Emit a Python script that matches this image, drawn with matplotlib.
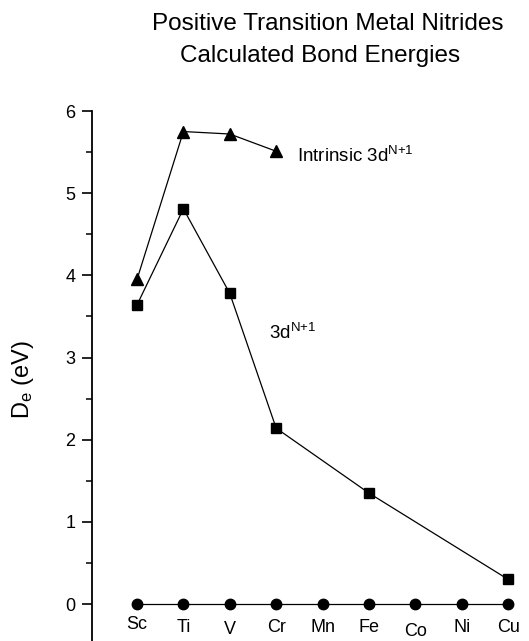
import matplotlib
matplotlib.use("Agg")
import matplotlib.pyplot as plt
import numpy as np

plt.rcParams["font.family"] = ["Liberation Sans", "DejaVu Sans"]
plt.rcParams["mathtext.fontset"] = "custom"
plt.rcParams["mathtext.rm"] = "Liberation Sans"
plt.rcParams["mathtext.it"] = "Liberation Sans:italic"

# 3d transition metals, Sc..Cu
metals = ["Sc", "Ti", "V", "Cr", "Mn", "Fe", "Co", "Ni", "Cu"]

# intrinsic 3d^(N+1) bond energies (eV), Sc..Cr
intrinsic_x = ["Sc", "Ti", "V", "Cr"]
intrinsic_de = [3.95, 5.75, 5.72, 5.51]

# 3d^(N+1) bond energies (eV)
d_x = ["Sc", "Ti", "V", "Cr", "Fe", "Cu"]
d_de = [3.64, 4.81, 3.78, 2.14, 1.35, 0.30]

# baseline row
base_de = [0, 0, 0, 0, 0, 0, 0, 0, 0]

pos = {m: i for i, m in enumerate(metals)}

fig = plt.figure(figsize=(5.29, 6.41), dpi=100)
ax = fig.add_axes([92 / 529, 0.0, 437 / 529, 530 / 641])

ax.plot([pos[m] for m in intrinsic_x], intrinsic_de, "k-", lw=0.9,
        marker="^", ms=9, clip_on=False)
ax.plot([pos[m] for m in d_x], d_de, "k-", lw=0.9,
        marker="s", ms=7.5, clip_on=False)
ax.plot(np.arange(len(metals)), base_de, "k-", lw=0.9,
        marker="o", ms=7.5, clip_on=False)

# element names sit just under the zero row, a few nudged down
nudge = {"Sc": 0.03, "V": -0.03, "Co": -0.05}
for i, m in enumerate(metals):
    ax.text(i, -0.18 + nudge.get(m, 0.0), m, ha="center", va="top",
            fontsize=13)

sup = r"$^{\mathrm{N{+}1}}$"
ax.text(3.45, 5.45, "Intrinsic 3d" + sup, fontsize=13.5,
        va="center", ha="left")
ax.text(2.84, 3.30, "3d" + sup, fontsize=13.5,
        va="center", ha="left")

ax.set_xlim(-0.97, 8.45)
ax.set_ylim(-0.45, 6)
ax.set_yticks(np.arange(0, 7, 1))
ax.set_yticks(np.arange(0.5, 6, 1), minor=True)
ax.set_xticks([])
for s in ("top", "right", "bottom"):
    ax.spines[s].set_visible(False)
ax.spines["left"].set_bounds(-0.45, 6)
ax.spines["left"].set_linewidth(1.3)
ax.tick_params(axis="y", which="major", length=7, width=1.2, pad=5,
               labelsize=13)
ax.tick_params(axis="y", which="minor", length=4, width=1.1)

fig.text(23 / 529, 1 - 380 / 641, r"D$_{\mathrm{e}}$ (eV)", rotation=90,
         ha="center", va="center", fontsize=17)

fig.text(328 / 529, 1 - 30 / 641, "Positive Transition Metal Nitrides",
         ha="center", va="baseline", fontsize=17.5)
fig.text(320 / 529, 1 - 62 / 641, "Calculated Bond Energies",
         ha="center", va="baseline", fontsize=17.5)

fig.savefig("out.png", dpi=100)
